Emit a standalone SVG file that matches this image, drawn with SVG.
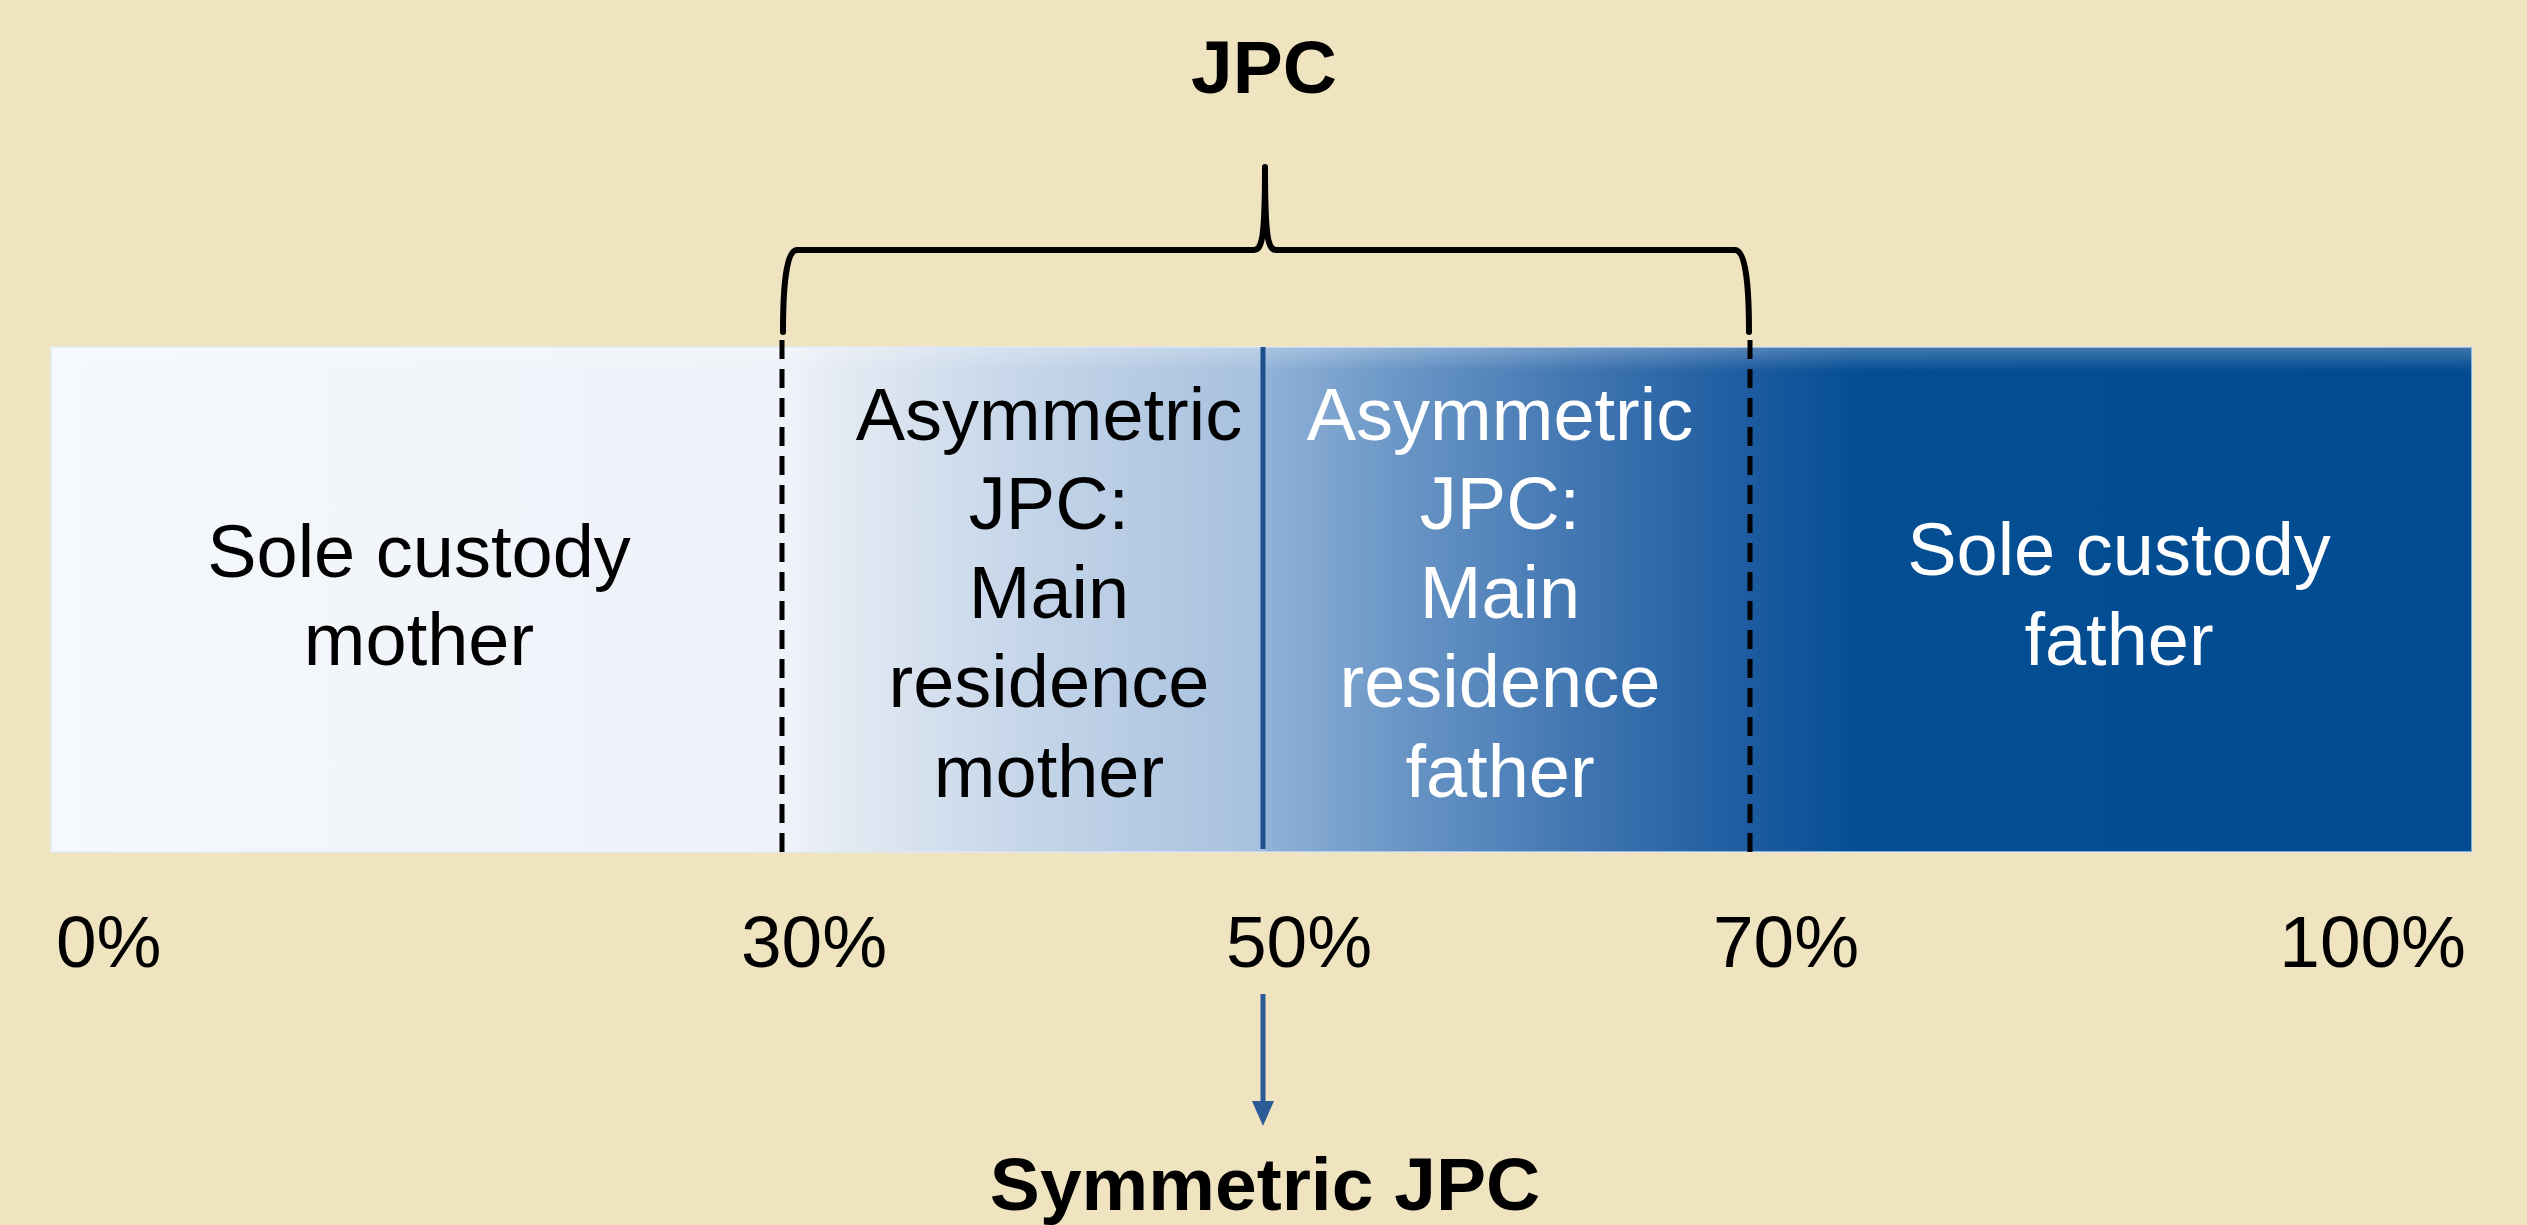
<svg xmlns="http://www.w3.org/2000/svg" width="2527" height="1225" viewBox="0 0 2527 1225">
  <style>
    .t { font-family: "Liberation Sans", Arial, sans-serif; font-size: 74px; text-anchor: middle; }
    .dark { fill: #000000; }
    .light { fill: #FFFFFF; }
    .b { font-family: "Liberation Sans", Arial, sans-serif; font-size: 75px; font-weight: bold; text-anchor: middle; fill: #000000; }
    .pct { font-family: "Liberation Sans", Arial, sans-serif; font-size: 73px; fill: #000000; }
    .dash { stroke: #000000; stroke-width: 5; stroke-dasharray: 19 10; fill: none; }
  </style>
  <defs>
    <linearGradient id="barGrad" gradientUnits="userSpaceOnUse" x1="51" y1="0" x2="2472" y2="0">
      <stop offset="0" stop-color="#F5F8FC"/>
      <stop offset="0.305" stop-color="#EEF2F9"/>
      <stop offset="0.330" stop-color="#E2E9F3"/>
      <stop offset="0.392" stop-color="#C9D8EA"/>
      <stop offset="0.4994" stop-color="#A6C0DE"/>
      <stop offset="0.5027" stop-color="#8FB1D7"/>
      <stop offset="0.557" stop-color="#6A96C6"/>
      <stop offset="0.640" stop-color="#3C72AF"/>
      <stop offset="0.706" stop-color="#1A5A9F"/>
      <stop offset="0.747" stop-color="#054E94"/>
      <stop offset="1" stop-color="#004B91"/>
    </linearGradient>
    <linearGradient id="topShade" x1="0" y1="0" x2="0" y2="1">
      <stop offset="0" stop-color="#FFFFFF" stop-opacity="0.25"/>
      <stop offset="1" stop-color="#FFFFFF" stop-opacity="0"/>
    </linearGradient>
  </defs>

  <rect x="0" y="0" width="2527" height="1225" fill="#F0E3C0"/>

  <g id="bar">
    <rect x="51" y="347" width="2421" height="505" fill="url(#barGrad)"/>
    <rect x="51" y="347" width="2421" height="24" fill="url(#topShade)"/>
    <rect x="51" y="347" width="2421" height="505" fill="none" stroke="#DDE9F6" stroke-opacity="0.6" stroke-width="2"/>
  </g>

  <g id="separators">
    <line class="dash" x1="782" y1="340" x2="782" y2="854"/>
    <line class="dash" x1="1750" y1="340" x2="1750" y2="854"/>
    <line x1="1263" y1="347" x2="1263" y2="849" stroke="#1F4E8C" stroke-width="5"/>
  </g>

  <g id="node-sole-mother">
    <text class="t dark" x="419" y="577">Sole custody</text>
    <text class="t dark" x="419" y="665">mother</text>
  </g>

  <g id="node-asym-mother">
    <text class="t dark" x="1049" y="440">Asymmetric</text>
    <text class="t dark" x="1049" y="529">JPC:</text>
    <text class="t dark" x="1049" y="618">Main</text>
    <text class="t dark" x="1049" y="707">residence</text>
    <text class="t dark" x="1049" y="797">mother</text>
  </g>

  <g id="node-asym-father">
    <text class="t light" x="1500" y="440">Asymmetric</text>
    <text class="t light" x="1500" y="529">JPC:</text>
    <text class="t light" x="1500" y="618">Main</text>
    <text class="t light" x="1500" y="707">residence</text>
    <text class="t light" x="1500" y="797">father</text>
  </g>

  <g id="node-sole-father">
    <text class="t light" x="2119" y="575">Sole custody</text>
    <text class="t light" x="2119" y="665">father</text>
  </g>

  <g id="node-jpc">
    <text class="b" x="1264" y="93">JPC</text>
  </g>

  <g id="axis-labels">
    <text class="pct" x="56" y="967">0%</text>
    <text class="pct" x="814" y="967" text-anchor="middle">30%</text>
    <text class="pct" x="1299" y="967" text-anchor="middle">50%</text>
    <text class="pct" x="1786" y="967" text-anchor="middle">70%</text>
    <text class="pct" x="2466" y="967" text-anchor="end">100%</text>
  </g>

  <g id="node-symmetric">
    <text class="b" x="1265" y="1210">Symmetric JPC</text>
  </g>

  <g id="connectors">
    <path d="M783,332 C783,288 786,250 797,250 L1254,250 C1262,250 1265,238 1265,167 C1265,238 1268,250 1276,250 L1735,250 C1746,250 1749,288 1749,332" fill="none" stroke="#000000" stroke-width="6" stroke-linecap="round" stroke-linejoin="round"/>
    <line x1="1263" y1="994" x2="1263" y2="1104" stroke="#2C5B98" stroke-width="5"/>
    <polygon points="1252,1101 1274,1101 1263,1126" fill="#2C5B98"/>
  </g>
</svg>
